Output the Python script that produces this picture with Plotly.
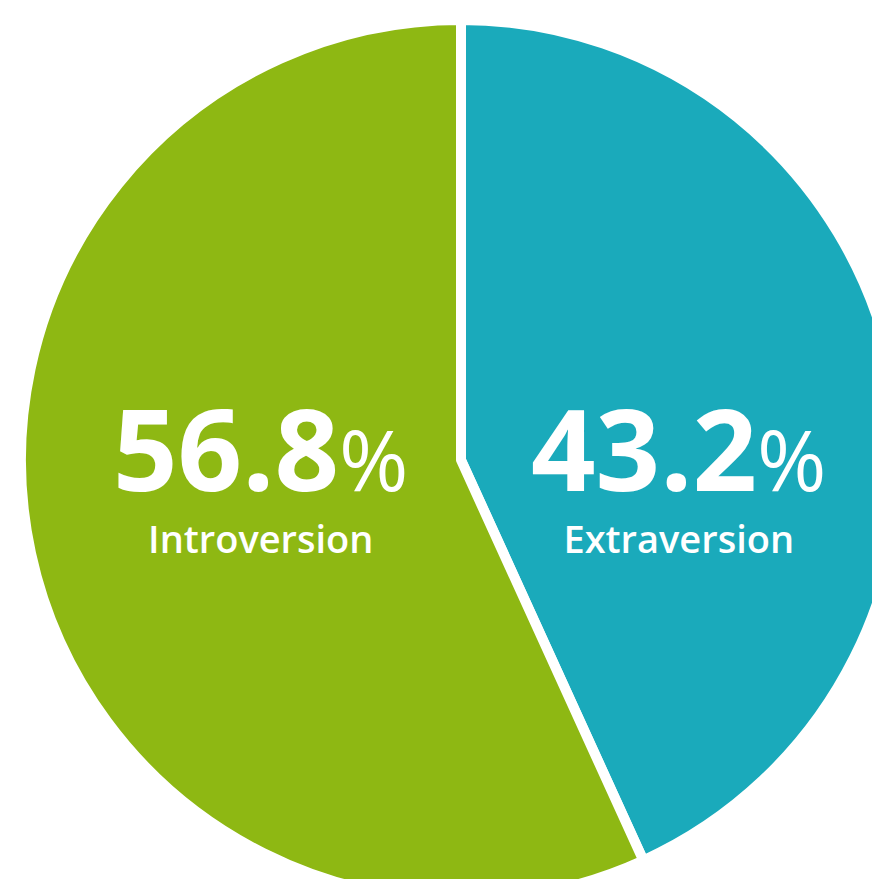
import plotly.graph_objects as go

labels = ["Extraversion", "Introversion"]
values = [43.2, 56.8]
colors = ["#1AAABB", "#8EB813"]

# figure geometry
W, H = 906, 904
ML, MR, MT, MB = 21, 5, 20, 4

def px(x):
    return (x - ML) / (W - ML - MR)

def py(y):
    return 1 - (y - MT) / (H - MT - MB)

fig = go.Figure(go.Pie(
    labels=labels,
    values=values,
    marker=dict(colors=colors, line=dict(color="white", width=10)),
    sort=False,
    direction="clockwise",
    rotation=0,
    textinfo="none",
    hoverinfo="label+percent",
    showlegend=False,
))

text_centers = {"Extraversion": 679, "Introversion": 261}
annotations = []
for lab, val in zip(labels, values):
    cx = text_centers[lab]
    annotations.append(dict(
        x=px(cx), y=py(566), xref="paper", yref="paper",
        xanchor="center", yanchor="bottom", showarrow=False, align="center",
        text=(f"<span style='font-size:113px;font-weight:700'>{val:.1f}</span>"
              f"<span style='font-size:84px;font-weight:400'>%</span>"
              f"<br><span style='font-size:38px;font-weight:600'>{lab}</span>"),
        font=dict(family="Open Sans", size=48, color="white"),
    ))

fig.update_layout(
    width=W, height=H,
    margin=dict(l=ML, r=MR, t=MT, b=MB),
    paper_bgcolor="white",
    plot_bgcolor="white",
    annotations=annotations,
)

fig.write_html(
    "out.html",
    config={"displayModeBar": False},
    post_script="document.body.style.margin='0';document.body.style.overflow='hidden';document.documentElement.style.overflow='hidden';",
)
